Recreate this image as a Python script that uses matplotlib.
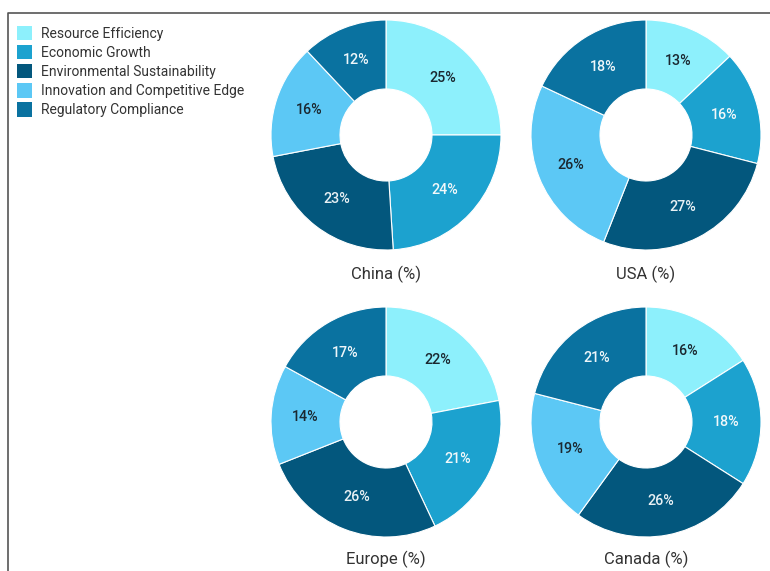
import matplotlib
matplotlib.use("Agg")
import matplotlib.pyplot as plt
from matplotlib.lines import Line2D
from matplotlib.patches import Patch

plt.rcParams['font.family'] = ['Roboto', 'DejaVu Sans']

categories = ["Resource Efficiency", "Economic Growth", "Environmental Sustainability",
              "Innovation and Competitive Edge", "Regulatory Compliance"]
regions = ["China (%)", "USA (%)", "Europe (%)", "Canada (%)"]
china = [25, 24, 23, 16, 12]
usa = [13, 16, 27, 26, 18]
europe = [22, 21, 26, 14, 17]
canada = [16, 18, 26, 19, 21]
series = [china, usa, europe, canada]

colors = ["#8DF0FC", "#1CA2CF", "#03577D", "#5CC8F5", "#0A72A0"]
text_colors = ["#1b2830", "#f2f8fa", "#e8f0f4", "#1b2830", "#eef6fa"]

W, H = 770, 571
fig = plt.figure(figsize=(W / 100, H / 100), dpi=100)

centers = [(386, 135), (646, 135), (386, 422), (646, 422)]
title_y = [274, 274, 559, 559]
R = 115
inner = 46

for vals, name, (cx, cy), ty in zip(series, regions, centers, title_y):
    ax = fig.add_axes([(cx - R) / W, 1 - (cy + R) / H, 2 * R / W, 2 * R / H])
    wedges, texts, autotexts = ax.pie(
        vals, colors=colors, startangle=90, counterclock=False, radius=1,
        autopct=lambda p: f"{p:.0f}%", pctdistance=0.70,
        wedgeprops=dict(width=(R - inner) / R, edgecolor="white", linewidth=0.8),
        textprops=dict(fontsize=10.3, fontweight='medium'))
    for t, c in zip(autotexts, text_colors):
        t.set_color(c)
    ax.set_xlim(-1.0, 1.0)
    ax.set_ylim(-1.0, 1.0)
    ax.set_aspect('equal')
    ax.axis('off')
    fig.text(cx / W, 1 - ty / H, name, ha='center', va='center', fontsize=12, color="#333333")

handles = [Patch(facecolor=c, edgecolor='none') for c in colors]
fig.legend(handles, categories, loc='upper left', bbox_to_anchor=(17 / W, 1 - 26 / H),
           frameon=False, fontsize=10, handlelength=1.1, handleheight=1.2,
           handletextpad=0.6, labelspacing=0.31, borderaxespad=0, borderpad=0,
           labelcolor="#333333")

fig.add_artist(Line2D([8 / W, 8 / W, 1.0], [0.0, 1 - 12.5 / H, 1 - 12.5 / H],
                      transform=fig.transFigure, color="#555555", linewidth=1.2))

fig.savefig("out.png", dpi=100, facecolor="white")
